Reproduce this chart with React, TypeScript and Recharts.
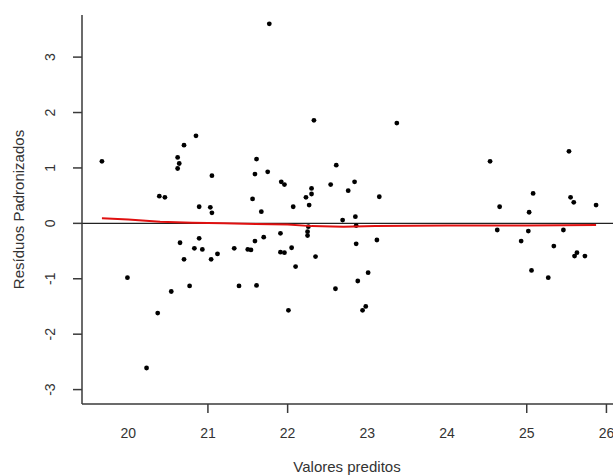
import React from 'react';
import { ScatterChart, Scatter, XAxis, YAxis, ReferenceLine, Label } from 'recharts';

// Valores preditos (fitted values)
const predicted = [
  19.67, 20.85, 20.70, 20.62, 20.64, 20.62, 21.05, 20.39, 20.46, 20.89,
  21.03, 21.05, 20.65, 20.89, 20.83, 20.93, 20.70, 21.04, 21.12, 21.33,
  19.99, 20.54, 20.77, 21.39, 20.37, 20.23,
  22.33, 23.37, 21.61, 21.59, 21.75, 21.92, 21.96, 22.61, 22.54, 22.84,
  22.30, 22.76, 22.30, 22.23, 21.56, 23.15, 21.67, 22.07, 22.27, 22.69,
  22.85, 22.86, 22.26, 22.25, 22.25, 21.91, 21.70, 21.59, 21.50, 21.54,
  21.91, 21.96, 22.05, 22.10, 22.35, 22.86, 23.12, 21.61, 22.60, 23.01,
  22.88, 22.01, 22.94, 22.98,
  24.54, 25.53, 25.08, 24.66, 25.03, 25.55, 25.59, 25.87, 24.63, 25.02,
  25.46, 24.93, 25.34, 25.63, 25.60, 25.73, 25.06, 25.27,
  21.77,
];

// Resíduos padronizados
const residuals = [
  1.12, 1.58, 1.41, 1.19, 1.08, 0.99, 0.86, 0.49, 0.47, 0.30,
  0.29, 0.19, -0.35, -0.27, -0.45, -0.47, -0.65, -0.65, -0.55, -0.45,
  -0.98, -1.23, -1.13, -1.13, -1.62, -2.61,
  1.86, 1.81, 1.16, 0.89, 0.93, 0.75, 0.70, 1.05, 0.70, 0.75,
  0.63, 0.59, 0.53, 0.47, 0.44, 0.48, 0.21, 0.30, 0.33, 0.06,
  0.12, -0.04, -0.06, -0.15, -0.22, -0.18, -0.25, -0.32, -0.47, -0.48,
  -0.52, -0.53, -0.44, -0.78, -0.60, -0.37, -0.30, -1.12, -1.18, -0.89,
  -1.04, -1.57, -1.57, -1.50,
  1.12, 1.30, 0.54, 0.30, 0.20, 0.47, 0.38, 0.33, -0.12, -0.14,
  -0.12, -0.32, -0.41, -0.53, -0.59, -0.59, -0.85, -0.98,
  3.60,
];

// Lowess smooth (red line)
const lowessX = [19.67, 20.0, 20.4, 20.8, 21.2, 21.6, 22.0, 22.3, 22.7, 23.1, 24.0, 25.0, 25.87];
const lowessY = [0.09, 0.07, 0.03, 0.01, 0.0, -0.01, -0.02, -0.05, -0.06, -0.05, -0.04, -0.04, -0.03];

const xTicks = [20, 21, 22, 23, 24, 25, 26];
const xTickMarks = [21, 22, 25, 26];
const yTicks = [-3, -2, -1, 0, 1, 2, 3];
const xTitle = 'Valores preditos';
const yTitle = 'Resíduos Padronizados';

const points = predicted.map((x, i) => ({ x, y: residuals[i] }));
const lowess = lowessX.map((x, i) => ({ x, y: lowessY[i] }));

const FONT = '"Liberation Sans", Arial, sans-serif';
const AXIS = '#3a3a3a';
const TEXT = '#333';

const XTick = (props: any) => {
  const { x, y, payload } = props;
  const mark = xTickMarks.includes(payload.value);
  return (
    <g>
      {mark && <line x1={x} x2={x} y1={y - 9} y2={y} stroke={AXIS} strokeWidth={1.5} />}
      <text x={x} y={y + 20} textAnchor="middle" dominantBaseline="central" fontFamily={FONT} fontSize={14} fill={TEXT}>
        {payload.value}
      </text>
    </g>
  );
};

const YTick = (props: any) => {
  const { x, y, payload } = props;
  return (
    <text
      x={0}
      y={0}
      transform={`translate(${x - 23},${y}) rotate(-90)`}
      textAnchor="middle"
      dominantBaseline="central"
      fontFamily={FONT}
      fontSize={14}
      fill={TEXT}
    >
      {payload.value}
    </text>
  );
};

const XTitle = (props: any) => {
  const vb = props.viewBox || { x: 82, y: 404, width: 534, height: 71 };
  return (
    <text x={vb.x + vb.width / 2 - 2} y={vb.y + 62} textAnchor="middle" dominantBaseline="central" fontFamily={FONT} fontSize={15} fill={TEXT}>
      {xTitle}
    </text>
  );
};

const YTitle = (props: any) => {
  const vb = props.viewBox || { x: 0, y: 15, width: 82, height: 389 };
  const cy = vb.y + vb.height / 2;
  return (
    <text x={0} y={0} transform={`translate(18,${cy}) rotate(-90)`} textAnchor="middle" dominantBaseline="central" fontFamily={FONT} fontSize={15} fill={TEXT}>
      {yTitle}
    </text>
  );
};

const Dot = (props: any) => {
  const { cx, cy } = props;
  if (cx == null || cy == null) return <g />;
  return <circle cx={cx} cy={cy} r={2.4} fill="#000" />;
};

const NoDot = () => <g />;

export default function App() {
  return (
    <div style={{ position: 'fixed', left: 0, top: 0, width: 613, height: 475, overflow: 'hidden', background: '#fff' }}>
      <ScatterChart width={620} height={475} margin={{ top: 15, right: 4, bottom: 0, left: 0 }}>
        <XAxis
          type="number"
          dataKey="x"
          domain={[19.42, 26.12]}
          ticks={xTicks}
          allowDataOverflow
          height={71}
          tickSize={9}
          tickMargin={0}
          tickLine={false}
          axisLine={{ stroke: AXIS, strokeWidth: 1.5 }}
          tick={<XTick />}
          interval={0}
        >
          <Label content={<XTitle />} />
        </XAxis>
        <YAxis
          type="number"
          dataKey="y"
          domain={[-3.26, 3.76]}
          ticks={yTicks}
          allowDataOverflow
          width={82}
          tickSize={9}
          tickMargin={0}
          tickLine={{ stroke: AXIS, strokeWidth: 1.5 }}
          axisLine={{ stroke: AXIS, strokeWidth: 1.5 }}
          tick={<YTick />}
          interval={0}
        >
          <Label content={<YTitle />} />
        </YAxis>
        <Scatter data={points} fill="#000" shape={<Dot />} isAnimationActive={false} />
        <ReferenceLine y={0} stroke="#222" strokeWidth={1.3} />
        <Scatter
          data={lowess}
          line={{ stroke: '#e01010', strokeWidth: 2 }}
          lineType="joint"
          shape={<NoDot />}
          isAnimationActive={false}
        />
      </ScatterChart>
    </div>
  );
}
